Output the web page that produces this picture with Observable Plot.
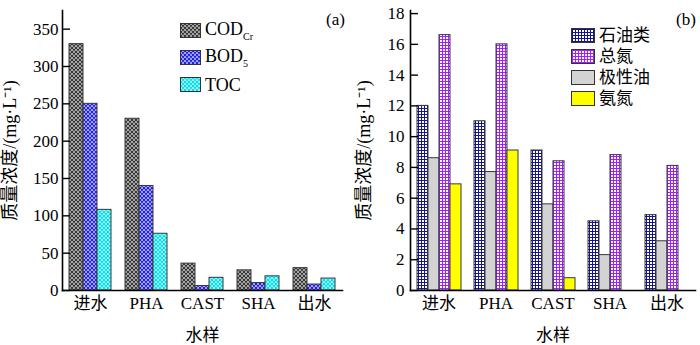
<!DOCTYPE html>
<html><head><meta charset="utf-8">
<script src="https://cdn.jsdelivr.net/npm/d3@7"></script>
<script src="https://cdn.jsdelivr.net/npm/@observablehq/plot@0.6"></script>
<style>
body{margin:0;background:#fff;}
#wrap{position:relative;width:700px;height:345px;display:flex;font-family:"Liberation Serif","Noto Sans CJK SC",serif;color:#000;}
.panel{position:relative;width:350px;height:345px;}
.panel svg{display:block;}
.legend{position:absolute;font-size:17px;line-height:1;}
.row{display:flex;align-items:center;white-space:nowrap;}
.sw{border:1px solid #333;box-sizing:border-box;margin-right:4px;flex:none;}
.tag{position:absolute;font-size:17px;line-height:1;}
sub{font-size:10px;vertical-align:-5px;}
</style></head><body>
<svg width="0" height="0" style="position:absolute">
<defs>
<pattern id="pCOD" width="4" height="4" patternUnits="userSpaceOnUse">
 <rect width="4" height="4" fill="#d0d0d0"/>
 <path d="M0,0L4,4M4,0L0,4M-1,3L1,5M3,-1L5,1M-1,1L1,-1M3,5L5,3" stroke="#333" stroke-width="1.15"/>
</pattern>
<pattern id="pBOD" width="4" height="4" patternUnits="userSpaceOnUse">
 <rect width="4" height="4" fill="#ffffff"/>
 <path d="M0,0L4,4M4,0L0,4M-1,3L1,5M3,-1L5,1M-1,1L1,-1M3,5L5,3" stroke="#1f1fe6" stroke-width="1.35"/>
</pattern>
<pattern id="pTOC" width="4" height="4" patternUnits="userSpaceOnUse">
 <rect width="4" height="4" fill="#ffffff"/>
 <path d="M0,0L4,4M4,0L0,4M-1,3L1,5M3,-1L5,1M-1,1L1,-1M3,5L5,3" stroke="#00dfee" stroke-width="1.35"/>
</pattern>
<pattern id="pOil" width="3" height="3" patternUnits="userSpaceOnUse">
 <rect width="3" height="3" fill="#ffffff"/>
 <path d="M0,0.5H3M0.5,0V3" stroke="#14148c" stroke-width="1"/>
</pattern>
<pattern id="pTN" width="3" height="3" patternUnits="userSpaceOnUse">
 <rect width="3" height="3" fill="#ffffff"/>
 <path d="M0,0.5H3M0.5,0V3" stroke="#a51cff" stroke-width="1"/>
</pattern>
</defs></svg>
<div id="wrap">
 <div class="panel" id="pa"></div>
 <div class="panel" id="pb"></div>
</div>
<script>
// ---- data ----
const samples = ["进水", "PHA", "CAST", "SHA", "出水"];

const seriesA = ["COD", "BOD", "TOC"];
const codA = [330, 230, 36, 27, 30];
const bodA = [250, 140, 6, 10, 8];
const tocA = [108, 76, 17, 19, 16];
const ticksA = [0, 50, 100, 150, 200, 250, 300, 350];

const seriesB = ["石油类", "极性油", "总氮", "氨氮"];
const legendOrderB = ["石油类", "总氮", "极性油", "氨氮"];
const oilB = [12, 11, 9.1, 4.5, 4.9];
const polarB = [8.6, 7.7, 5.6, 2.3, 3.2];
const tnB = [16.6, 16, 8.4, 8.8, 8.1];
const nh3B = [6.9, 9.1, 0.8, null, null];
const ticksB = [0, 2, 4, 6, 8, 10, 12, 14, 16, 18];

const fillsA = {COD: "url(#pCOD)", BOD: "url(#pBOD)", TOC: "url(#pTOC)"};
const fillsB = {"石油类": "url(#pOil)", "极性油": "#d3d3d3", "总氮": "url(#pTN)", "氨氮": "#ffff00"};

const yLabel = "质量浓度/(mg·L⁻¹)";
const xLabel = "水样";
const font = "'Liberation Serif','Noto Sans CJK SC',serif";

// ---- rows ----
const valsA = {COD: codA, BOD: bodA, TOC: tocA};
const rowsA = [];
samples.forEach((s, i) => seriesA.forEach(k => rowsA.push({sample: s, series: k, value: valsA[k][i]})));
const valsB = {"石油类": oilB, "极性油": polarB, "总氮": tnB, "氨氮": nh3B};
const rowsB = [];
samples.forEach((s, i) => seriesB.forEach(k => { if (valsB[k][i] != null) rowsB.push({sample: s, series: k, value: valsB[k][i]}); }));

function panel({rows, series, fills, ticks, ymax, marginLeft, marginRight, pad, tickPadding, yLabelOffset}) {
  const svg = Plot.plot({
    width: 350, height: 345,
    marginLeft, marginRight, marginTop: 10, marginBottom: 55,
    style: `font-family:${font};font-size:17px;color:#000;background:transparent;overflow:visible;`,
    fx: {domain: samples, padding: 0},
    x: {domain: series, paddingInner: 0, paddingOuter: pad, axis: null},
    y: {domain: [0, ymax]},
    color: {type: "identity"},
    marks: [
      Plot.barY(rows, {fx: "sample", x: "series", y: "value", fill: d => fills[d.series], stroke: "#383838", strokeWidth: 1}),
      Plot.axisY({ticks, tickSize: -8, tickPadding, strokeWidth: 1.4, fontSize: 17, label: yLabel, labelAnchor: "center", labelOffset: yLabelOffset, labelArrow: "none"}),
      Plot.axisFx({anchor: "bottom", tickSize: 0, tickPadding: 6, fontSize: 17, label: xLabel, labelAnchor: "center", labelOffset: 50, labelArrow: "none"}),
      Plot.frame({anchor: "bottom", facet: "super", strokeWidth: 1.6}),
      Plot.frame({anchor: "left", facet: "super", strokeWidth: 1.6})
    ]
  });
  d3.select(svg).selectAll('g[aria-label="y-axis label"] text').attr("font-size", 18);
  return svg;
}

document.getElementById("pa").append(panel({rows: rowsA, series: seriesA, fills: fillsA, ticks: ticksA, ymax: 375,
  marginLeft: 62, marginRight: 8, pad: 0.367, tickPadding: 12, yLabelOffset: 59}));
document.getElementById("pb").append(panel({rows: rowsB, series: seriesB, fills: fillsB, ticks: ticksB, ymax: 18.2,
  marginLeft: 58, marginRight: 3, pad: 0.555, tickPadding: 14, yLabelOffset: 53}));

// ---- legends (HTML) ----
function legend(parent, items, {left, top, w, h, gap, fs}) {
  const div = document.createElement("div");
  div.className = "legend";
  div.style.left = left + "px"; div.style.top = top + "px"; div.style.fontSize = fs + "px";
  items.forEach(([fill, html]) => {
    const row = document.createElement("div");
    row.className = "row";
    row.style.height = h + "px"; row.style.marginBottom = gap + "px";
    row.innerHTML = `<svg class="sw" width="${w}" height="${h}"><rect width="${w}" height="${h}" fill="${fill}"/></svg><span>${html}</span>`;
    div.append(row);
  });
  parent.append(div);
}
const labelsA = {COD: "COD<sub>Cr</sub>", BOD: "BOD<sub>5</sub>", TOC: "TOC"};
legend(document.getElementById("pa"), seriesA.map(k => [fillsA[k], labelsA[k]]), {left: 180, top: 23, w: 21, h: 15, gap: 12, fs: 18});
legend(document.getElementById("pb"), legendOrderB.map(k => [fillsB[k], k]), {left: 221, top: 28, w: 24, h: 15, gap: 6, fs: 17});

// panel tags
[["pa", "(a)"], ["pb", "(b)"]].forEach(([id, t]) => {
  const s = document.createElement("div");
  s.className = "tag"; s.textContent = t;
  s.style.left = "326px"; s.style.top = "11px";
  document.getElementById(id).append(s);
});
</script>
</body></html>
